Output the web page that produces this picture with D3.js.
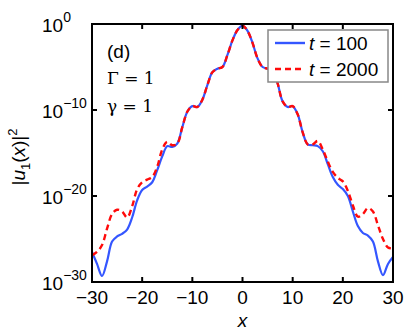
<!DOCTYPE html>
<html>
<head>
<meta charset="utf-8">
<script src="https://cdn.jsdelivr.net/npm/d3@7"></script>
<style>
  body { margin: 0; background: #fff; }
  text { font-family: "Liberation Sans", Arial, sans-serif; }
</style>
</head>
<body>
<div id="chart"></div>
<script>
// x positions shared by both curves
let xs = [];
for (let i = -30; i <= 30; i++) xs.push(i);

// log10 |u1(x)|^2, t = 100
let logT100 = [
    -26.5, -27.9, -29.3, -27.6, -25.3, -24.7, -24.4, -23.9, -22.5, -20.5,
    -19.3, -18.9, -18.4, -17.0, -15.4, -14.2, -14.3, -13.9, -12.0, -10.2,
    -9.55, -9.65, -8.8, -7.1, -5.6, -5.2, -5.0, -3.6, -1.9, -0.7,
    -0.2,
    -0.8, -2.2, -4.0, -5.0, -5.2, -5.4, -6.9, -9.0, -9.65, -9.55,
    -10.5, -12.6, -14.0, -14.1, -14.2, -14.8, -16.3, -17.8, -18.7, -19.2,
    -20.0, -21.8, -23.5, -24.3, -24.6, -25.3, -27.6, -29.2, -27.9, -27.1
];

// t = 2000
let logT2000 = [
    -26.9, -26.5, -25.7, -23.8, -22.1, -21.6, -21.8, -22.5, -21.2, -19.2,
    -18.4, -18.1, -17.8, -16.6, -14.6, -13.7, -14.1, -13.9, -12.0, -10.2,
    -9.55, -9.65, -8.8, -7.1, -5.6, -5.2, -5.0, -3.6, -1.9, -0.7,
    -0.2,
    -0.8, -2.2, -4.0, -5.0, -5.2, -5.4, -6.9, -9.0, -9.65, -9.55,
    -10.5, -12.6, -14.0, -14.0, -13.6, -14.6, -16.0, -17.2, -17.9, -18.3,
    -19.4, -21.1, -22.4, -22.1, -21.4, -21.8, -23.4, -25.0, -26.0, -26.1
];

let xTicks = [-30, -20, -10, 0, 10, 20, 30];
let yTickExps = [0, -10, -20, -30];
let seriesNames = ["100", "2000"];

let width = 407, height = 330;
let margin = {top: 24, right: 14, bottom: 48, left: 92};
let plotW = width - margin.left - margin.right;
let plotH = height - margin.top - margin.bottom;

let svg = d3.select("#chart").append("svg")
    .attr("width", width)
    .attr("height", height);

let g = svg.append("g")
    .attr("transform", "translate(" + margin.left + "," + margin.top + ")");

let x = d3.scaleLinear().domain([-30, 30]).range([0, plotW]);
let y = d3.scaleLog().domain([1e-30, 1]).range([plotH, 0]);

// clip curves to the frame
g.append("clipPath").attr("id", "clip")
    .append("rect").attr("width", plotW).attr("height", plotH);

let line = d3.line()
    .x(function(d) { return x(d[0]); })
    .y(function(d) { return y(Math.pow(10, d[1])); })
    .curve(d3.curveCatmullRom.alpha(0.5));

let blueData = xs.map(function(v, i) { return [v, logT100[i]]; });
let redData = xs.map(function(v, i) { return [v, logT2000[i]]; });

let curves = g.append("g").attr("clip-path", "url(#clip)");

curves.append("path")
    .datum(blueData)
    .attr("d", line)
    .style("fill", "none")
    .style("stroke", "#3456ff")
    .style("stroke-width", 2.2);

curves.append("path")
    .datum(redData)
    .attr("d", line)
    .style("fill", "none")
    .style("stroke", "#ff0a0a")
    .style("stroke-width", 2.4)
    .style("stroke-dasharray", "6,4");

// frame + inward ticks
let tickLen = 5;
g.append("rect")
    .attr("width", plotW).attr("height", plotH)
    .style("fill", "none").style("stroke", "#000").style("stroke-width", 2);

xTicks.forEach(function(t) {
    g.append("line").attr("x1", x(t)).attr("x2", x(t)).attr("y1", plotH).attr("y2", plotH - tickLen)
        .style("stroke", "#000").style("stroke-width", 2);
    g.append("line").attr("x1", x(t)).attr("x2", x(t)).attr("y1", 0).attr("y2", tickLen)
        .style("stroke", "#000").style("stroke-width", 2);
    g.append("text")
        .attr("x", x(t)).attr("y", plotH + 22)
        .attr("text-anchor", "middle")
        .style("font-size", "19px")
        .text(t < 0 ? "\u2212" + Math.abs(t) : t);
});

yTickExps.forEach(function(e) {
    let yy = y(Math.pow(10, e));
    g.append("line").attr("x1", 0).attr("x2", tickLen).attr("y1", yy).attr("y2", yy)
        .style("stroke", "#000").style("stroke-width", 2);
    g.append("line").attr("x1", plotW).attr("x2", plotW - tickLen).attr("y1", yy).attr("y2", yy)
        .style("stroke", "#000").style("stroke-width", 2);
    let lbl = g.append("text")
        .attr("x", -50).attr("y", yy + 8)
        .style("font-size", "19px");
    lbl.append("tspan").text("10");
    lbl.append("tspan")
        .attr("dy", -10)
        .style("font-size", "14px")
        .text(e < 0 ? "\u2212" + Math.abs(e) : e);
});

// axis labels
g.append("text")
    .attr("x", x(0)).attr("y", plotH + 45)
    .attr("text-anchor", "middle")
    .style("font-size", "19px").style("font-style", "italic")
    .text("x");

let yl = svg.append("text")
    .attr("transform", "translate(25," + (margin.top + plotH / 2 + 4) + ") rotate(-90)")
    .attr("text-anchor", "middle")
    .style("font-size", "19px");
yl.append("tspan").text("|");
yl.append("tspan").style("font-style", "italic").text("u");
yl.append("tspan").attr("dy", 5).style("font-size", "13px").text("1");
yl.append("tspan").attr("dy", -5).text("(");
yl.append("tspan").style("font-style", "italic").text("x");
yl.append("tspan").text(")|");
yl.append("tspan").attr("dy", -8).style("font-size", "13px").text("2");

// annotation
let notes = g.append("g").style("font-size", "19px");
notes.append("text").attr("x", 15).attr("y", 34).text("(d)");
notes.append("text").attr("x", 15).attr("y", 60)
    .style("font-family", "'DejaVu Serif', serif").style("font-size", "17px").text("\u0393 = 1");
notes.append("text").attr("x", 15).attr("y", 88)
    .style("font-family", "'DejaVu Serif', serif").style("font-size", "17px").text("\u03b3 = 1");

// legend
let legend = svg.append("g").attr("transform", "translate(268,30)");
legend.append("rect")
    .attr("width", 120).attr("height", 52)
    .style("fill", "#fff").style("stroke", "#888").style("stroke-width", 1.5);

let legColors = ["#3456ff", "#ff0a0a"];
let legDash = [null, "6,4"];
seriesNames.forEach(function(name, i) {
    let ly = 13 + i * 26;
    legend.append("line")
        .attr("x1", 7).attr("x2", 37).attr("y1", ly).attr("y2", ly)
        .style("stroke", legColors[i]).style("stroke-width", 2.4)
        .style("stroke-dasharray", legDash[i]);
    let t = legend.append("text")
        .attr("x", 41).attr("y", ly + 7)
        .style("font-size", "19px");
    t.append("tspan").style("font-style", "italic").text("t");
    t.append("tspan").text(" = " + name);
});
</script>
</body>
</html>
